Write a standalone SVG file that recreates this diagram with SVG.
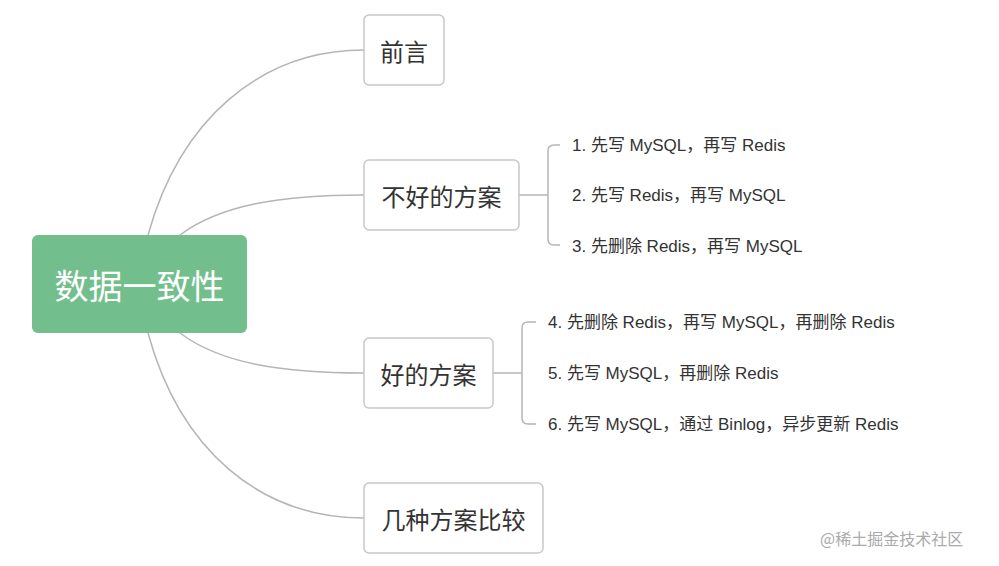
<svg xmlns="http://www.w3.org/2000/svg" width="999" height="566" viewBox="0 0 999 566">
<style>
.box{fill:#fff;stroke:#c8c8c8;stroke-width:1.5}
.t{font-family:"Noto Sans CJK SC","Liberation Sans",sans-serif;font-size:24px;fill:#333;dominant-baseline:central}
.s{font-family:"Liberation Sans","Noto Sans CJK SC",sans-serif;font-size:17px;fill:#333;dominant-baseline:central}
.c{fill:none;stroke:#b5b5b5;stroke-width:1.5}
</style>
<rect width="999" height="566" fill="#fff"/>
<g id="connectors">
<path class="c" d="M148,235 C180,120 260,50 364,50"/>
<path class="c" d="M180,235 C220,205 280,195 364,195"/>
<path class="c" d="M180,333 C220,363 280,373 364,373"/>
<path class="c" d="M148,333 C180,450 260,518 364,518"/>
<path class="c" d="M519,195 H548 M560,145 H554 Q548,145 548,151 V239 Q548,245 554,245 H560"/>
<path class="c" d="M493,373 H522 M536,322 H528 Q522,322 522,328 V418 Q522,424 528,424 H536"/>
</g>
<g id="root"><rect x="32" y="235" width="215" height="98" rx="6" fill="#72bf8d"/>
<text x="139.5" y="284" text-anchor="middle" font-family="Noto Sans CJK SC,sans-serif" font-size="34" fill="#fff" dominant-baseline="central">数据一致性</text></g>
<g id="n1"><rect class="box" x="364" y="15" width="80" height="70" rx="5"/><text class="t" x="404" y="50" text-anchor="middle">前言</text></g>
<g id="n2"><rect class="box" x="364" y="160" width="155" height="70" rx="5"/><text class="t" x="441.5" y="195" text-anchor="middle">不好的方案</text></g>
<g id="n3"><rect class="box" x="364" y="338" width="129" height="70" rx="5"/><text class="t" x="428.5" y="373" text-anchor="middle">好的方案</text></g>
<g id="n4"><rect class="box" x="364" y="483" width="179" height="70" rx="5"/><text class="t" x="453.5" y="518" text-anchor="middle">几种方案比较</text></g>
<g id="l1"><text class="s" x="572" y="145">1. 先写 MySQL，再写 Redis</text></g>
<g id="l2"><text class="s" x="572" y="195">2. 先写 Redis，再写 MySQL</text></g>
<g id="l3"><text class="s" x="572" y="246">3. 先删除 Redis，再写 MySQL</text></g>
<g id="l4"><text class="s" x="548" y="322">4. 先删除 Redis，再写 MySQL，再删除 Redis</text></g>
<g id="l5"><text class="s" x="548" y="373">5. 先写 MySQL，再删除 Redis</text></g>
<g id="l6"><text class="s" x="548" y="424">6. 先写 MySQL，通过 Binlog，异步更新 Redis</text></g>
<text x="820" y="538" font-family="Noto Sans CJK SC,sans-serif" font-size="16" fill="#aaa" dominant-baseline="central">@稀土掘金技术社区</text>
</svg>
